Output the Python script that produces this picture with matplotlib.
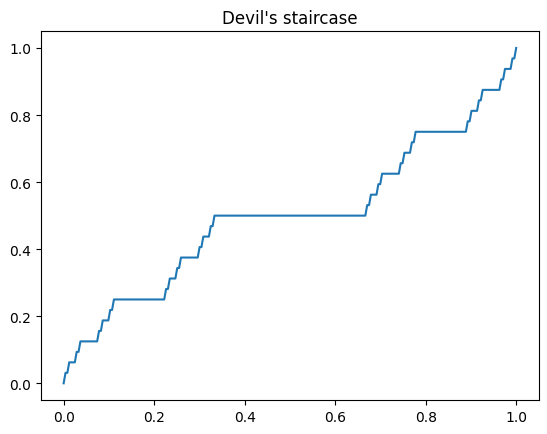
import numpy as np
import matplotlib
matplotlib.use("Agg")
import matplotlib.pyplot as plt

# Plateaus of the staircase, x in units of 1/243, level = k/32
levels_k = list(range(1, 32))
plateau_start = [1, 3, 7, 9, 19, 21, 25, 27, 55, 57, 61, 63, 73, 75, 79, 81,
                 163, 165, 169, 171, 181, 183, 187, 189, 217, 219, 223, 225, 235, 237, 241]
plateau_end = [2, 6, 8, 18, 20, 24, 26, 54, 56, 60, 62, 72, 74, 78, 80, 162,
               164, 168, 170, 180, 182, 186, 188, 216, 218, 222, 224, 234, 236, 240, 242]

xs = [0.0]
ys = [0.0]
for k, a, b in zip(levels_k, plateau_start, plateau_end):
    xs += [a / 243, b / 243]
    ys += [k / 32, k / 32]
xs.append(1.0)
ys.append(1.0)

fig = plt.figure(figsize=(5.47, 4.35), dpi=100)
ax = fig.add_axes([0.075, 0.078, 0.91, 0.848])
ax.plot(xs, ys, color="#1f77b4", linewidth=1.5)
ax.set_title("Devil's staircase")

fig.savefig("out.png", dpi=100)
